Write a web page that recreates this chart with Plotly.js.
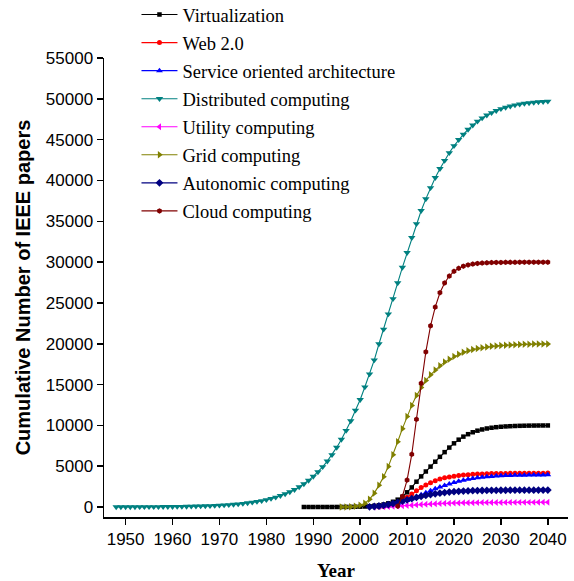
<!DOCTYPE html>
<html>
<head>
<meta charset="utf-8">
<script src="https://cdn.plot.ly/plotly-3.0.1.min.js"></script>
<style>
  html, body { margin: 0; padding: 0; background: #fff; }
  #chart { width: 574px; height: 581px; }
</style>
</head>
<body>
<div id="chart"></div>
<script>
// Cumulative number of IEEE papers per topic, one value per year.
// Each series starts at its own first year.

const seriesNames = [
  "Virtualization", "Web 2.0", "Service oriented architecture",
  "Distributed computing", "Utility computing", "Grid computing",
  "Autonomic computing", "Cloud computing"
];

const virtualizationStart = 1988;
const virtualization = [
  0, 0, 0, 1, 1, 2, 3, 5, 8, 12, 18, 27,                 // 1988-1999
  40, 60, 90, 140, 210, 310, 450, 640, 900, 1250,        // 2000-2009
  1800, 2400, 3100, 3750, 4350, 4950, 5550, 6150, 6720, 7280, // 2010-2019
  7800, 8250, 8620, 8920, 9160, 9350, 9500, 9620, 9710, 9780, // 2020-2029
  9830, 9870, 9900, 9925, 9945, 9960, 9970, 9978, 9984, 9988, // 2030-2039
  9990                                                    // 2040
];

const web20Start = 2004;
const web20 = [
  20, 60, 150, 300, 500, 800,                             // 2004-2009
  1180, 1600, 2000, 2380, 2700, 2980, 3220, 3420, 3570, 3690, // 2010-2019
  3780, 3850, 3910, 3960, 4000, 4030, 4055, 4075, 4090, 4100, // 2020-2029
  4110, 4118, 4125, 4130, 4135, 4140, 4143, 4146, 4148, 4150, // 2030-2039
  4152
];

const soaStart = 2004;
const soa = [
  30, 80, 160, 280, 430, 600,                             // 2004-2009
  800, 1020, 1260, 1510, 1760, 2000, 2230, 2440, 2640, 2820, // 2010-2019
  2990, 3140, 3270, 3390, 3490, 3570, 3640, 3700, 3750, 3790, // 2020-2029
  3820, 3845, 3865, 3880, 3895, 3905, 3915, 3922, 3928, 3933, // 2030-2039
  3937
];

const distributedStart = 1948;
const distributed = [
  7, 8,                                                   // 1948-1949
  10, 12, 13, 16, 18, 21, 24, 28, 33, 38,                 // 1950-1959
  44, 52, 60, 70, 81, 95, 110, 128, 148, 172,             // 1960-1969
  200, 233, 270, 313, 362, 423, 490, 569, 660, 765,       // 1970-1979
  885, 1027, 1190, 1380, 1600, 1840, 2125, 2450, 2830, 3250, // 1980-1989
  3740, 4290, 4920, 5620, 6400, 7300, 8270, 9360, 10550, 11850, // 1990-1999
  13150, 14700, 16290, 18000, 19970, 21770, 23640, 25500, 27450, 29350, // 2000-2009
  31150, 33000, 34700, 36300, 37750, 39100, 40350, 41450, 42450, 43400, // 2010-2019
  44250, 45000, 45650, 46250, 46780, 47250, 47650, 48000, 48300, 48560, // 2020-2029
  48780, 48960, 49110, 49240, 49350, 49440, 49510, 49570, 49620, 49660, // 2030-2039
  49700
];

const utilityStart = 2003;
const utility = [
  5, 15, 30, 50, 75, 105, 140,                            // 2003-2009
  180, 220, 260, 300, 335, 370, 400, 425, 450, 470,       // 2010-2019
  487, 500, 512, 522, 530, 537, 543, 548, 552, 556,       // 2020-2029
  559, 562, 564, 566, 568, 569, 570, 571, 572, 573,       // 2030-2039
  574
];

const gridStart = 1996;
const grid = [
  0, 10, 30, 80,                                          // 1996-1999
  200, 450, 950, 1700, 2650, 3700, 4950, 6400, 8000, 9600, // 2000-2009
  11100, 12450, 13650, 14650, 15500, 16200, 16800, 17300, 17750, 18100, // 2010-2019
  18450, 18700, 18950, 19150, 19300, 19420, 19520, 19610, 19680, 19740, // 2020-2029
  19790, 19830, 19860, 19890, 19910, 19930, 19945, 19960, 19970, 19980, // 2030-2039
  19985
];

const autonomicStart = 2002;
const autonomic = [
  20, 60, 120, 200, 300, 420, 560, 720,                   // 2002-2009
  880, 1030, 1170, 1300, 1420, 1530, 1620, 1700, 1770, 1830, // 2010-2019
  1880, 1920, 1950, 1975, 1995, 2010, 2022, 2032, 2040, 2046, // 2020-2029
  2051, 2055, 2058, 2061, 2063, 2065, 2066, 2067, 2068, 2069, // 2030-2039
  2070
];

const cloudStart = 2008;
const cloud = [
  100, 1300,                                              // 2008-2009
  3300, 6450, 10750, 15150, 19000, 22200, 24500, 26250, 27450, 28300, // 2010-2019
  28870, 29240, 29500, 29650, 29760, 29840, 29890, 29920, 29945, 29960, // 2020-2029
  29970, 29975, 29980, 29985, 29988, 29990, 29992, 29994, 29995, 29996, // 2030-2039
  29997
];

const xTicks = [1950, 1960, 1970, 1980, 1990, 2000, 2010, 2020, 2030, 2040];
const yTicks = [0, 5000, 10000, 15000, 20000, 25000, 30000, 35000, 40000, 45000, 50000, 55000];

function yearsFrom(start, values) {
  return values.map((_, i) => start + i);
}

const styles = [
  { color: "#000000", symbol: "square",         size: 4.5 },
  { color: "#FF0000", symbol: "circle",         size: 5 },
  { color: "#0000FF", symbol: "triangle-up",    size: 6 },
  { color: "#008080", symbol: "triangle-down",  size: 6.5 },
  { color: "#FF00FF", symbol: "triangle-left",  size: 6 },
  { color: "#808000", symbol: "triangle-right", size: 6.5 },
  { color: "#000080", symbol: "diamond",        size: 6 },
  { color: "#800000", symbol: "hexagon",        size: 5.5 }
];

const seriesData = [
  [virtualizationStart, virtualization],
  [web20Start, web20],
  [soaStart, soa],
  [distributedStart, distributed],
  [utilityStart, utility],
  [gridStart, grid],
  [autonomicStart, autonomic],
  [cloudStart, cloud]
];

const traces = seriesData.map(([start, vals], i) => ({
  type: "scatter",
  mode: "lines+markers",
  name: seriesNames[i],
  legendgroup: "g" + i,
  x: yearsFrom(start, vals),
  y: vals,
  line: { color: styles[i].color, width: 1.1 },
  marker: { color: styles[i].color, symbol: styles[i].symbol, size: styles[i].size, line: { width: 0 } }
}));

const tickFont = { family: "Liberation Sans, Arial, sans-serif", size: 17, color: "#000" };

const layout = {
  width: 574,
  height: 581,
  margin: { l: 104, r: 6, t: 58, b: 64, autoexpand: false },
  paper_bgcolor: "#fff",
  plot_bgcolor: "#fff",
  showlegend: true,
  legend: {
    x: 0.07, xanchor: "left",
    y: 1.135, yanchor: "top",
    bgcolor: "rgba(0,0,0,0)",
    borderwidth: 0,
    itemwidth: 36,
    tracegroupgap: 1,
    font: { family: "Liberation Serif, Times New Roman, serif", size: 18.5, color: "#000" }
  },
  xaxis: {
    range: [1945.4, 2044.3],
    tickvals: xTicks,
    ticktext: xTicks.map(String),
    showline: true, linecolor: "#000", linewidth: 1.5,
    ticks: "outside", ticklen: 6, tickwidth: 1.5, tickcolor: "#000",
    showgrid: false, zeroline: false,
    tickfont: tickFont,
    title: { text: "<b>Year</b>", font: { family: "Liberation Serif, Times New Roman, serif", size: 19, color: "#000" }, standoff: 18 }
  },
  yaxis: {
    range: [-1225, 55010],
    tickvals: yTicks,
    ticktext: yTicks.map(String),
    showline: true, linecolor: "#000", linewidth: 1.5,
    ticks: "outside", ticklen: 6, tickwidth: 1.5, tickcolor: "#000",
    showgrid: false, zeroline: false,
    tickfont: tickFont,
    title: { text: "<b>Cumulative Number of IEEE papers</b>", font: { family: "Liberation Sans, Arial, sans-serif", size: 20, color: "#000" }, standoff: 10 }
  }
};

Plotly.newPlot("chart", traces, layout, { displayModeBar: false, staticPlot: true });
</script>
</body>
</html>
